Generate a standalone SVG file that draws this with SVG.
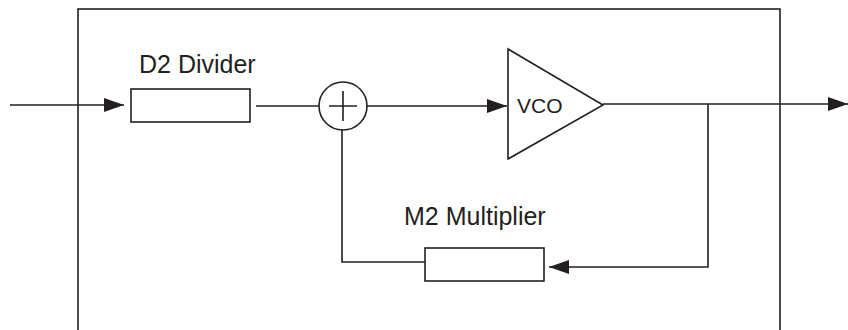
<svg xmlns="http://www.w3.org/2000/svg" width="848" height="330" viewBox="0 0 848 330">
<style>
.ln{fill:none;stroke:#231f20;stroke-width:1.6}
.bx{fill:#fff;stroke:#231f20;stroke-width:1.6}
.lb{font-family:"Liberation Sans",Arial,sans-serif;fill:#231f20}
</style>
<defs>
<marker id="ah" viewBox="0 0 20 14" refX="20" refY="7" markerWidth="20" markerHeight="14" markerUnits="userSpaceOnUse" orient="auto">
<path d="M0,0 L20,7 L0,14 Z" fill="#231f20"/>
</marker>
</defs>
<rect width="848" height="330" fill="#fff"/>
<g id="frame"><rect x="78" y="9" width="702" height="340" class="ln"/></g>
<g id="connectors">
<line x1="10" y1="105" x2="124" y2="105" class="ln" marker-end="url(#ah)"/>
<line x1="256" y1="106" x2="319" y2="106" class="ln"/>
<line x1="367" y1="106" x2="507" y2="106" class="ln" marker-end="url(#ah)"/>
<line x1="603" y1="104" x2="848" y2="104" class="ln" marker-end="url(#ah)"/>
<polyline points="708,104 708,267 549,267" class="ln" marker-end="url(#ah)"/>
<polyline points="425,262 342,262 342,130" class="ln"/>
</g>
<g id="d2">
<rect x="131" y="89" width="119" height="33" class="bx"/>
<text x="139" y="73" font-size="25" class="lb">D2 Divider</text>
</g>
<g id="sum">
<circle cx="343" cy="106" r="24" class="bx"/>
<path d="M329,106 H357 M343,91 V121" class="ln"/>
</g>
<g id="vco">
<polygon points="508,49 603,105 508,159" class="bx"/>
<text x="517" y="113" font-size="21" class="lb">VCO</text>
</g>
<g id="m2">
<rect x="425" y="248" width="119" height="33" class="bx"/>
<text x="404" y="225" font-size="25" class="lb">M2 Multiplier</text>
</g>
</svg>
